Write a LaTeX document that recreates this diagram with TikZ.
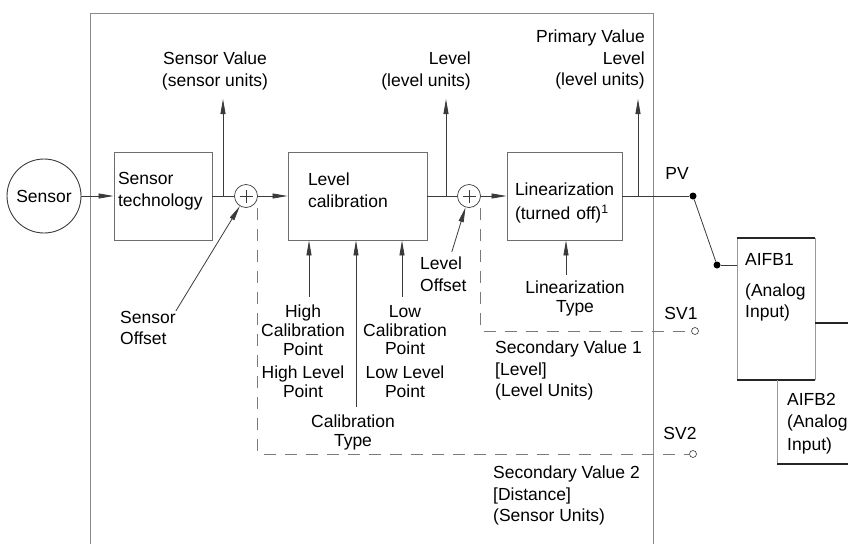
\documentclass[tikz,border=0pt]{standalone}
\usepackage{fontspec}
\setmainfont{Liberation Sans}
\usepackage{tikz}
\usetikzlibrary{positioning, arrows.meta}
\definecolor{cBoxLine}{HTML}{6E6E6E}
\definecolor{cWire}{HTML}{3A3A3A}
\definecolor{cFrame}{HTML}{8A8A8A}
\definecolor{cDash}{HTML}{7A7A7A}

\begin{document}
\begin{tikzpicture}[x=1pt, y=-1pt,
  font=\fontsize{17.5}{21.5}\selectfont,
  >={Triangle[length=15pt,width=5pt]},
  block/.style={draw=cBoxLine, line width=0.9pt, minimum height=88pt, align=left, inner ysep=0pt},
  sumpt/.style={circle, draw=cWire, line width=0.7pt, minimum size=23pt, inner sep=0pt,
    path picture={\draw[line width=0.6pt] (path picture bounding box.center) +(-6.5pt,0pt) -- +(6.5pt,0pt)
      (path picture bounding box.center) +(0pt,-6.5pt) -- +(0pt,6.5pt);}},
  lbl/.style={inner sep=0pt},
  tight/.style={inner sep=0pt, align=center, font=\fontsize{17.5}{18.8}\selectfont},
  flow/.style={->, line width=0.8pt, draw=cWire},
  wire/.style={line width=0.8pt, draw=cWire},
  dashline/.style={line width=0.9pt, draw=cDash, dash pattern=on 12pt off 9pt},
  dot/.style={circle, fill=black, inner sep=0pt, minimum size=7pt},
  port/.style={circle, draw=cWire, fill=white, line width=0.6pt, inner sep=0pt, minimum size=7pt},
  fbside/.style={line width=0.6pt, draw=black!40},
  fbedge/.style={line width=1.5pt, draw=black!85}
]
\useasboundingbox (0,0) rectangle (848,544);
\draw[line width=0.9pt, draw=cFrame] (90,544) -- (90,13) -- (653,13) -- (653,544);

\node[circle, draw=cWire, line width=0.9pt, minimum size=74pt, inner sep=0pt] (sensor) at (44,196) {Sensor};
\node[block, minimum width=98pt, inner xsep=4pt, text width=90pt, text depth=35pt] (tech) at (163,196) {Sensor\\technology};
\node[sumpt] (sum1) at (246,196) {};
\node[block, minimum width=139pt, inner xsep=20pt, text width=99pt, text depth=33.5pt] (levcal) at (357.5,196) {Level\\calibration};
\node[sumpt] (sum2) at (469,196) {};
\node[block, minimum width=115pt, inner xsep=8pt, text width=99pt, text height=26.5pt] (lin) at (564.5,196) {Linearization\\[3pt](turned off)\textsuperscript{1}};
\node[dot] (pv) at (693,196) {};
\node[dot] (adot) at (717,265) {};
\node[port] (sv1) at (695,331) {};
\node[port] (sv2) at (693,454) {};
\node[minimum width=78pt, minimum height=142pt, inner sep=0pt] (aifb1) at (776,309) {};

\node[lbl, anchor=north, align=center] (svlbl) at (215,52) {Sensor Value\\(sensor units)};
\node[lbl, anchor=north east, align=right] (lvlbl) at (471,52) {Level\\(level units)};
\node[lbl, anchor=north east, align=right] (pvlbl) at (645,30) {Primary Value\\Level\\(level units)};
\node[lbl] (pvtxt) at (677,173) {PV};
\node[lbl] (sv1txt) at (681,313) {SV1};
\node[lbl] (sv2txt) at (680,433) {SV2};
\node[lbl, anchor=north west, align=left] (soff) at (120,311) {Sensor\\Offset};
\node[lbl, anchor=north west, align=left] (loff) at (420,257) {Level\\Offset};
\node[tight, anchor=north] (hcp) at (303,305) {High\\Calibration\\Point};
\node[tight, anchor=north] (hlp) at (303,366) {High Level\\Point};
\node[tight, anchor=north] (lcp) at (405,305) {Low\\Calibration\\Point};
\node[tight, anchor=north] (llp) at (405,366) {Low Level\\Point};
\node[tight, anchor=north] (ctype) at (353,415) {Calibration\\Type};
\node[tight, anchor=north] (ltype) at (575,281) {Linearization\\Type};
\node[lbl, anchor=north west, align=left] (sv1lbl) at (495,341) {Secondary Value 1\\{[Level]}\\(Level Units)};
\node[lbl, anchor=north west, align=left] (sv2lbl) at (493,466) {Secondary Value 2\\{[Distance]}\\(Sensor Units)};
\node[lbl, anchor=north west, align=left, font=\fontsize{17.5}{20.5}\selectfont] (aifb1txt) at (745,253) {AIFB1\\[11pt](Analog\\Input)};
\node[lbl, anchor=north west, align=left, font=\fontsize{17.5}{22.5}\selectfont] (aifb2txt) at (787,393) {AIFB2\\(Analog\\Input)};

\coordinate (svtap) at (223,196);
\coordinate (lvtap) at (446,196);
\coordinate (pvtap) at (638,196);
\coordinate (hcpin) at (309,297);
\coordinate (ctin) at (356,407);
\coordinate (lcpin) at (402,297);
\coordinate (ltin) at (566,275);
\coordinate (aiout) at (848,323);
\coordinate (fb2nw) at (777,380);
\coordinate (fb2se) at (848,464);

\draw[flow] (sensor) -- (tech);
\draw[wire] (tech) -- (sum1);
\draw[flow] (sum1) -- (levcal);
\draw[wire] (levcal) -- (sum2);
\draw[flow] (sum2) -- (lin);
\draw[wire] (lin) -- (pv);
\draw[flow] (svtap) -- (svtap |- 0,99);
\draw[flow] (lvtap) -- (lvtap |- 0,99);
\draw[flow] (pvtap) -- (pvtap |- 0,99);
\draw[flow] (soff.north east) -- (sum1);
\draw[flow] ([xshift=-15pt, yshift=5pt]loff.north east) -- (sum2);
\draw[flow] (hcpin) -- (hcpin |- levcal.south);
\draw[flow] (ctin) -- (ctin |- levcal.south);
\draw[flow] (lcpin) -- (lcpin |- levcal.south);
\draw[flow] (ltin) -- (ltin |- lin.south);
\draw[dashline] (sum2.south -| sum2.east) |- (sv1);
\draw[dashline] (sum1.south -| sum1.east) |- (sv2);
\draw[wire] (pv) -- (adot);
\draw[wire] (adot) -- (adot -| aifb1.west);

\draw[fbside] (aifb1.north west) -- (aifb1.south west) (aifb1.north east) -- (aifb1.south east);
\draw[fbedge] (aifb1.north west) -- (aifb1.north east) (aifb1.south west) -- (aifb1.south east);
\draw[fbedge] (aifb1.east |- aiout) -- (aiout);
\draw[fbside] (fb2nw) -- (fb2nw |- fb2se);
\draw[fbedge] (fb2nw |- fb2se) -- (fb2se);
\end{tikzpicture}
\end{document}
